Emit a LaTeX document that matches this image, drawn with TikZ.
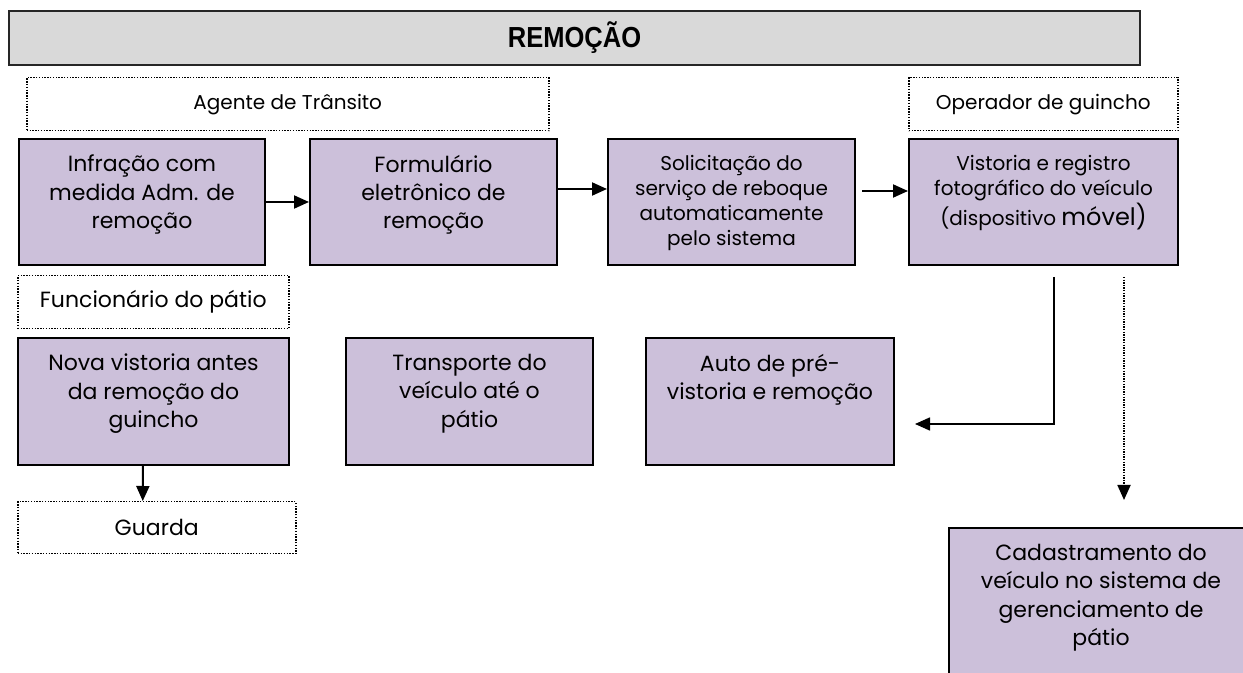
\documentclass[tikz,border=0pt]{standalone}
\usepackage{fontspec}
\setmainfont{Poppins}
\newfontfamily\titlefont{Liberation Sans}
\usetikzlibrary{calc}
\usetikzlibrary{arrows.meta}

\definecolor{lilas}{RGB}{204,192,218}
\definecolor{cinza}{RGB}{217,217,217}

% text at the top of a fixed box
\newcommand{\caixa}[3]{\parbox[c][#2][t]{#1}{\centering\vspace*{8pt}#3\par}}

\tikzset{
	titulo/.style={
		draw=black!85,
		fill=cinza,
		anchor=north west,
		inner sep=0pt,
		font=\titlefont\bfseries\fontsize{14.5}{16}\selectfont
	},
	ator/.style={
		draw,
		line width=0.75pt,
		dash pattern=on 0.7pt off 0.7pt,
		anchor=north west,
		inner sep=0pt,
		font=\fontsize{10}{12}\selectfont
	},
	tarefa/.style={
		draw,
		fill=lilas,
		anchor=north west,
		inner sep=0pt,
		font=\fontsize{11}{14.2}\selectfont
	},
	miudo/.style={font=\fontsize{10}{12.5}\selectfont},
	fluxo/.style={
		-{Triangle[length=7.5pt,width=6.5pt]}
	},
	fluxopont/.style={
		fluxo,
		line width=0.9pt,
		dash pattern=on 0.7pt off 0.6pt
	},
}

\begin{document}
\begin{tikzpicture}[x=0.5pt,y=-0.5pt,line width=1pt]
		\useasboundingbox (0,0) rectangle (1243,673);
		\clip (0,0) rectangle (1243,673);

		\node[titulo, minimum width=565.5pt, minimum height=27pt] (remocao) at (8,10) {\scalebox{0.88}[1]{REMOÇÃO}};

		\node[ator, minimum width=261pt, minimum height=26.5pt] (agente) at (26,77) {Agente de Trânsito};
		\node[ator, minimum width=134.5pt, minimum height=26.5pt] (operador) at (908,77) {Operador de guincho};

%*********

		\node[tarefa] (infracao) at (18,138) {\caixa{123pt}{63pt}{Infração com\\medida Adm. de\\remoção}};
		\node[tarefa] (formulario) at (309,138) {\caixa{123.5pt}{63pt}{Formulário\\eletrônico de\\remoção}};
		\node[tarefa, miudo] (solicitacao) at (607,138) {\caixa{123.5pt}{63pt}{Solicitação do\\serviço de reboque\\automaticamente\\pelo sistema}};
		\node[tarefa, miudo] (vistoria) at (908,138) {\caixa{134.5pt}{63pt}{Vistoria e registro\\fotográfico do veículo\\(dispositivo {\fontsize{12}{12.5}\selectfont móvel)}}};

		\draw[fluxo] 			(infracao) -- (formulario);
		\draw[fluxo] 			([yshift=6.5pt]formulario.east) -- ([yshift=6.5pt]solicitacao.west);
		\draw[fluxo] 			([xshift=3pt,yshift=5.5pt]solicitacao.east) -- ([yshift=5.5pt]vistoria.west);

%*********

		\node[ator, minimum width=135.5pt, minimum height=26.5pt, font=\fontsize{11}{13}\selectfont] (funcionario) at (17,275) {Funcionário do pátio};

		\node[tarefa] (nova) at (17,337) {\caixa{135.5pt}{63.5pt}{Nova vistoria antes\\da remoção do\\guincho}};
		\node[tarefa] (transporte) at (345,337) {\caixa{123.5pt}{63.5pt}{Transporte do\\veículo até o\\pátio}};
		\node[tarefa] (auto) at (645,337) {\caixa{124pt}{63.5pt}{Auto de pré-\\vistoria e remoção}};

		\node[ator, minimum width=139pt, minimum height=26pt, font=\fontsize{11}{13}\selectfont] (guarda) at (17,501) {Guarda};

		\node[tarefa] (cadastro) at (948,527) {\caixa{152pt}{100pt}{Cadastramento do\\veículo no sistema de\\gerenciamento de\\pátio}};

		\draw[fluxo] 			([xshift=-5.25pt]nova.south) -- ([xshift=-7pt]guarda.north);
		\draw[fluxo, line width=0.8pt] 	([xshift=5.25pt,yshift=-5.5pt]vistoria.south) |- ([xshift=10pt,yshift=-11.25pt]auto.east);

		\coordinate (fimpont) at ([yshift=13.5pt]cadastro.north);
		\coordinate (iniciopont) at ([xshift=40.25pt,yshift=-5.5pt]vistoria.south);
		\draw[fluxopont] 		(iniciopont) -- (iniciopont |- fimpont);

	\end{tikzpicture}
\end{document}
